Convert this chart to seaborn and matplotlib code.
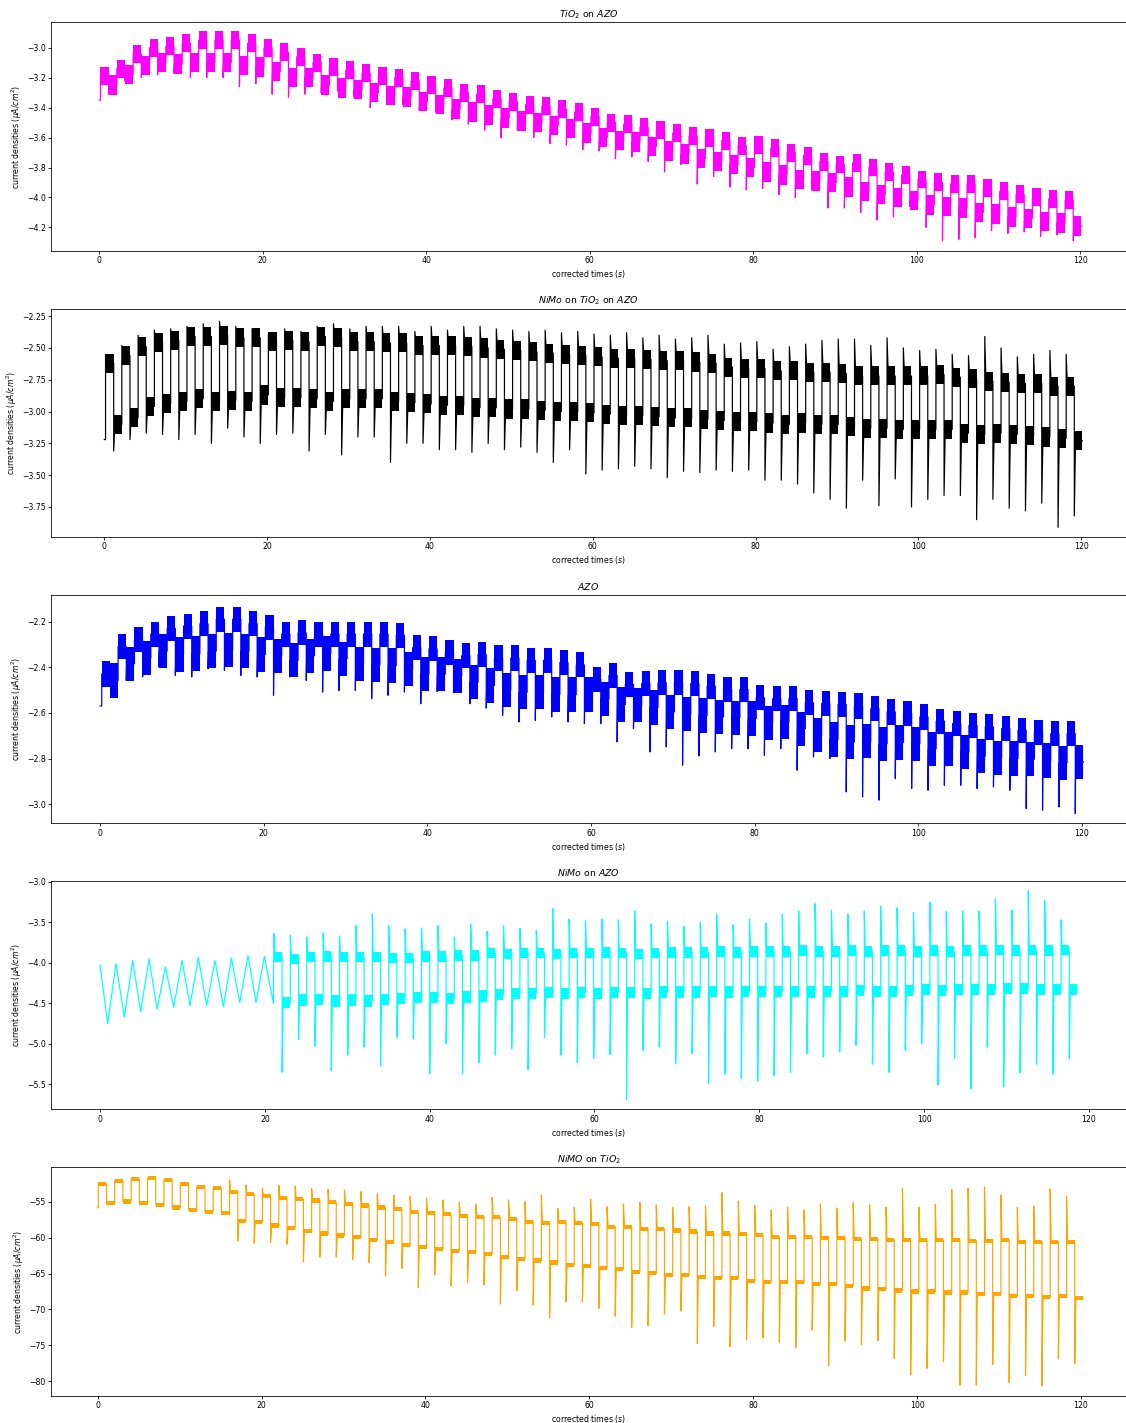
import numpy as np
import pandas as pd
import matplotlib
matplotlib.use("Agg")
import matplotlib.pyplot as plt
from matplotlib.ticker import MultipleLocator
import seaborn as sns

# Values. Each list holds one value per light
# on/off cycle: plateau levels (hi / lo) and the transient peak at the switch.

# ---- TiO2 on AZO (magenta) ----
tio2_t0, tio2_period, tio2_start = 0.15, 2.0, -3.35
tio2_hi = [-3.19, -3.14, -3.04, -3.00, -2.99, -2.97, -2.95, -2.95, -2.95, -2.97,
           -3.00, -3.03, -3.06, -3.10, -3.13, -3.15, -3.17, -3.19, -3.20, -3.22,
           -3.25, -3.27, -3.30, -3.31, -3.34, -3.36, -3.38, -3.39, -3.41, -3.43,
           -3.46, -3.50, -3.51, -3.53, -3.55, -3.57, -3.59, -3.60, -3.62, -3.655,
           -3.65, -3.67, -3.70, -3.72, -3.76, -3.78, -3.77, -3.80, -3.83, -3.85,
           -3.88, -3.90, -3.91, -3.91, -3.94, -3.96, -3.98, -4.00, -4.01, -4.02]
tio2_lo = [-3.25, -3.18, -3.12, -3.10, -3.11, -3.10, -3.10, -3.10, -3.12, -3.13,
           -3.16, -3.20, -3.20, -3.25, -3.27, -3.28, -3.30, -3.32, -3.33, -3.36,
           -3.38, -3.41, -3.43, -3.45, -3.47, -3.49, -3.50, -3.52, -3.54, -3.57,
           -3.60, -3.62, -3.63, -3.66, -3.69, -3.71, -3.74, -3.76, -3.78, -3.80,
           -3.83, -3.85, -3.88, -3.89, -3.90, -3.93, -3.96, -3.98, -4.00, -4.02,
           -4.05, -4.06, -4.07, -4.10, -4.11, -4.13, -4.14, -4.16, -4.17, -4.19]
tio2_dip = [-3.31, -3.22, -3.20, -3.18, -3.17, -3.20, -3.20, -3.20, -3.26, -3.24,
            -3.31, -3.33, -3.31, -3.30, -3.29, -3.33, -3.40, -3.38, -3.38, -3.42,
            -3.43, -3.48, -3.51, -3.55, -3.60, -3.55, -3.60, -3.64, -3.65, -3.68,
            -3.69, -3.74, -3.73, -3.76, -3.83, -3.78, -3.91, -3.86, -3.93, -3.95,
            -3.94, -3.98, -4.00, -3.95, -4.07, -4.07, -4.10, -4.15, -4.13, -4.06,
            -4.20, -4.29, -4.28, -4.27, -4.22, -4.24, -4.23, -4.26, -4.25, -4.29]

# ---- NiMo on TiO2 on AZO (black) ----
nimo_tio2_t0, nimo_tio2_period, nimo_tio2_start = 0.15, 2.0, -3.22
nimo_tio2_hi = [-2.62, -2.56, -2.49, -2.46, -2.44, -2.41, -2.41, -2.40, -2.42, -2.42,
                -2.45, -2.44, -2.45, -2.41, -2.42, -2.45, -2.45, -2.46, -2.46, -2.48,
                -2.48, -2.48, -2.49, -2.50, -2.51, -2.52, -2.53, -2.54, -2.55, -2.56,
                -2.57, -2.58, -2.58, -2.59, -2.60, -2.60, -2.61, -2.62, -2.65, -2.66,
                -2.66, -2.68, -2.68, -2.69, -2.69, -2.70, -2.72, -2.72, -2.72, -2.72,
                -2.72, -2.71, -2.73, -2.74, -2.76, -2.77, -2.78, -2.78, -2.80, -2.80]
nimo_tio2_lo = [-3.10, -3.05, -2.96, -2.94, -2.92, -2.90, -2.92, -2.91, -2.92, -2.87,
                -2.89, -2.89, -2.90, -2.92, -2.90, -2.90, -2.90, -2.92, -2.93, -2.94,
                -2.95, -2.95, -2.97, -2.97, -2.98, -2.98, -2.99, -3.00, -3.00, -3.01,
                -3.02, -3.03, -3.03, -3.04, -3.05, -3.05, -3.06, -3.07, -3.08, -3.08,
                -3.09, -3.10, -3.09, -3.10, -3.10, -3.12, -3.13, -3.13, -3.14, -3.14,
                -3.14, -3.14, -3.17, -3.18, -3.17, -3.18, -3.19, -3.20, -3.21, -3.23]
nimo_tio2_up = [-2.55, -2.48, -2.40, -2.36, -2.35, -2.33, -2.31, -2.29, -2.33, -2.35,
                -2.39, -2.35, -2.37, -2.33, -2.31, -2.35, -2.33, -2.33, -2.33, -2.37,
                -2.33, -2.36, -2.33, -2.33, -2.35, -2.36, -2.37, -2.36, -2.38, -2.37,
                -2.39, -2.40, -2.38, -2.42, -2.40, -2.43, -2.42, -2.40, -2.47, -2.46,
                -2.45, -2.51, -2.49, -2.47, -2.44, -2.43, -2.43, -2.48, -2.42, -2.50,
                -2.52, -2.51, -2.55, -2.56, -2.41, -2.50, -2.57, -2.55, -2.52, -2.55]
nimo_tio2_down = [-3.31, -3.22, -3.17, -3.18, -3.22, -3.18, -3.25, -3.13, -3.20, -3.25,
                  -3.18, -3.17, -3.31, -3.18, -3.34, -3.20, -3.20, -3.40, -3.25, -3.25,
                  -3.30, -3.30, -3.32, -3.25, -3.30, -3.28, -3.32, -3.40, -3.30, -3.49,
                  -3.46, -3.45, -3.43, -3.45, -3.52, -3.47, -3.48, -3.46, -3.47, -3.46,
                  -3.54, -3.54, -3.57, -3.64, -3.69, -3.76, -3.54, -3.74, -3.53, -3.75,
                  -3.69, -3.66, -3.66, -3.85, -3.69, -3.76, -3.78, -3.72, -3.91, -3.82]

# ---- AZO (blue) ----
azo_t0, azo_period, azo_start = 0.2, 2.0, -2.57
azo_hi = [-2.43, -2.31, -2.28, -2.255, -2.23, -2.22, -2.21, -2.19, -2.19, -2.21,
          -2.225, -2.255, -2.25, -2.255, -2.255, -2.255, -2.255, -2.255, -2.26, -2.315,
          -2.32, -2.335, -2.35, -2.345, -2.36, -2.36, -2.37, -2.37, -2.38, -2.39,
          -2.453, -2.436, -2.475, -2.472, -2.468, -2.468, -2.472, -2.483, -2.497, -2.497,
          -2.534, -2.538, -2.538, -2.556, -2.56, -2.563, -2.57, -2.582, -2.596, -2.603,
          -2.618, -2.636, -2.647, -2.655, -2.662, -2.669, -2.676, -2.687, -2.691, -2.691]
azo_lo = [-2.458, -2.385, -2.36, -2.33, -2.345, -2.34, -2.33, -2.325, -2.33, -2.345,
          -2.352, -2.37, -2.35, -2.34, -2.363, -2.385, -2.39, -2.393, -2.407, -2.43,
          -2.43, -2.437, -2.466, -2.48, -2.50, -2.51, -2.51, -2.52, -2.52, -2.52,
          -2.538, -2.563, -2.567, -2.577, -2.596, -2.606, -2.611, -2.618, -2.621, -2.625,
          -2.643, -2.64, -2.669, -2.698, -2.716, -2.727, -2.723, -2.735, -2.73, -2.735,
          -2.757, -2.757, -2.771, -2.789, -2.796, -2.80, -2.803, -2.808, -2.818, -2.815]
azo_dip = [-2.48, -2.458, -2.443, -2.40, -2.436, -2.443, -2.407, -2.414, -2.436, -2.443,
           -2.523, -2.443, -2.458, -2.509, -2.502, -2.502, -2.538, -2.523, -2.509, -2.56,
           -2.506, -2.512, -2.56, -2.579, -2.611, -2.64, -2.633, -2.618, -2.64, -2.647,
           -2.647, -2.727, -2.669, -2.771, -2.749, -2.829, -2.789, -2.771, -2.757, -2.757,
           -2.786, -2.757, -2.851, -2.793, -2.80, -2.946, -2.968, -2.982, -2.888, -2.931,
           -2.939, -2.917, -2.917, -2.931, -2.924, -2.939, -3.019, -3.026, -3.012, -3.041]

# ---- NiMo on AZO (cyan): triangular sweep first, then on/off cycles ----
nimo_azo_sweep_t = [0.0, 0.93, 1.94, 2.95, 3.96, 4.93, 5.95, 6.92, 7.93, 8.94, 9.95,
                    10.92, 11.93, 12.94, 13.95, 14.97, 15.94, 16.95, 17.96, 18.93, 19.94, 21.03]
nimo_azo_sweep_j = [-4.03, -4.75, -4.01, -4.67, -3.97, -4.60, -3.95, -4.57, -4.05, -4.55, -3.97,
                    -4.53, -3.93, -4.53, -3.97, -4.54, -3.94, -4.49, -3.91, -4.49, -3.92, -4.50]
nimo_azo_t0, nimo_azo_period = 21.1, 1.99
nimo_azo_hi = [-3.93, -3.95, -3.93, -3.92, -3.93, -3.93, -3.93, -3.94, -3.94, -3.92,
               -3.92, -3.91, -3.91, -3.88, -3.89, -3.88, -3.88, -3.89, -3.88, -3.88,
               -3.87, -3.88, -3.89, -3.88, -3.87, -3.87, -3.87, -3.86, -3.87, -3.86,
               -3.86, -3.86, -3.85, -3.86, -3.86, -3.85, -3.86, -3.85, -3.85, -3.86,
               -3.85, -3.86, -3.85, -3.85, -3.84, -3.85, -3.84, -3.85, -3.84]
nimo_azo_lo = [-4.49, -4.46, -4.45, -4.47, -4.46, -4.47, -4.45, -4.44, -4.43, -4.43,
               -4.44, -4.42, -4.41, -4.39, -4.38, -4.38, -4.37, -4.38, -4.37, -4.38,
               -4.37, -4.37, -4.38, -4.36, -4.36, -4.36, -4.35, -4.36, -4.35, -4.35,
               -4.35, -4.35, -4.36, -4.35, -4.35, -4.34, -4.35, -4.35, -4.34, -4.33,
               -4.34, -4.33, -4.33, -4.33, -4.32, -4.32, -4.33, -4.33, -4.33]
nimo_azo_up = [-3.64, -3.66, -3.68, -3.63, -3.67, -3.54, -3.40, -3.54, -3.58, -3.57,
               -3.54, -3.68, -3.52, -3.61, -3.54, -3.575, -3.60, -3.33, -3.46, -3.48,
               -3.46, -3.47, -3.36, -3.52, -3.49, -3.55, -3.50, -3.40, -3.53, -3.46,
               -3.51, -3.40, -3.36, -3.27, -3.35, -3.40, -3.36, -3.30, -3.32, -3.38,
               -3.25, -3.37, -3.36, -3.36, -3.21, -3.35, -3.11, -3.23, -3.47]
nimo_azo_down = [-5.35, -4.95, -5.03, -5.33, -5.14, -5.04, -5.27, -4.92, -4.94, -5.37,
                 -5.00, -5.37, -5.23, -5.14, -5.06, -5.32, -4.92, -5.14, -5.23, -5.18,
                 -5.13, -5.69, -5.08, -5.04, -5.24, -5.12, -5.49, -5.37, -5.43, -5.46,
                 -5.39, -5.35, -5.12, -5.16, -5.10, -5.02, -5.25, -5.35, -5.08, -5.00,
                 -5.51, -5.18, -5.55, -5.04, -5.53, -5.36, -5.25, -5.37, -5.18]

# ---- NiMO on TiO2 (orange) ----
nimo_t0, nimo_period, nimo_start = 0.07, 2.003, -55.8
nimo_hi = [-52.50, -52.02, -51.79, -51.69, -51.93, -52.53, -52.86, -53.09, -53.56, -53.88,
           -54.21, -54.44, -54.58, -54.81, -55.05, -55.28, -55.51, -55.75, -56.02, -56.35,
           -56.49, -56.72, -56.91, -57.05, -57.14, -57.37, -57.75, -57.89, -57.84, -57.89,
           -58.07, -58.45, -58.45, -58.77, -58.77, -59.00, -59.14, -59.38, -59.38, -59.47,
           -59.61, -59.84, -59.84, -59.93, -60.07, -60.07, -60.17, -60.17, -60.31, -60.31,
           -60.31, -60.31, -60.31, -60.40, -60.40, -60.31, -60.54, -60.54, -60.54, -60.54]
nimo_lo = [-55.19, -54.95, -55.19, -55.42, -55.79, -56.12, -56.35, -56.58, -57.61, -57.84,
           -58.30, -58.68, -59.05, -59.42, -59.70, -59.89, -60.31, -60.63, -61.05, -61.33,
           -61.52, -61.84, -62.03, -62.26, -62.73, -62.96, -63.19, -63.43, -63.80, -63.90,
           -64.26, -64.36, -64.73, -64.96, -65.20, -65.20, -65.43, -65.66, -65.66, -65.99,
           -66.22, -66.22, -66.22, -66.45, -66.45, -66.69, -67.06, -67.15, -67.38, -67.52,
           -67.52, -67.62, -67.62, -67.85, -67.85, -68.08, -68.08, -68.22, -68.08, -68.45]
nimo_up = [-52.50, -52.02, -51.79, -51.69, -51.93, -52.53, -52.86, -53.09, -51.93, -52.63,
           -53.09, -52.63, -52.77, -53.09, -53.23, -53.32, -53.56, -53.88, -54.02, -54.25,
           -54.49, -54.72, -55.05, -55.33, -54.35, -54.72, -54.95, -54.02, -55.90, -55.79,
           -54.58, -55.65, -55.28, -55.05, -55.42, -55.75, -55.65, -55.51, -53.70, -54.86,
           -55.51, -56.12, -55.75, -56.12, -55.28, -55.88, -55.09, -55.42, -55.75, -53.09,
           -55.75, -55.33, -53.23, -53.09, -52.95, -54.02, -55.75, -55.56, -53.18, -54.25]
nimo_down = [-55.19, -54.95, -55.19, -55.42, -55.79, -56.12, -56.35, -56.58, -60.45, -60.77,
             -60.63, -60.91, -63.33, -62.64, -62.64, -63.01, -63.43, -65.34, -64.26, -66.97,
             -65.20, -66.69, -66.22, -66.59, -69.25, -67.43, -69.39, -71.15, -68.92, -68.92,
             -69.85, -70.92, -72.55, -72.27, -70.64, -70.18, -74.74, -72.41, -75.21, -74.27,
             -73.95, -74.60, -75.34, -72.88, -77.86, -74.41, -74.88, -74.37, -76.83, -79.16,
             -78.23, -77.30, -80.56, -80.56, -77.67, -80.19, -79.25, -80.65, -76.93, -77.53]


def build_trace(t0, period, hi, lo, hi_peak, lo_peak, settle, lead_t, lead_j):
    """Turn per-cycle levels into a (time, current) trace plus the plateau blocks."""
    t, j = list(lead_t), list(lead_j)
    blocks = []
    for k in range(len(hi)):
        a = t0 + k * period
        b = a + period / 2
        c = a + period
        t += [a, a + settle, b, b, b + settle, c]
        j += [hi_peak[k], hi[k], hi[k], lo_peak[k], lo[k], lo[k]]
        blocks += [(a, b, hi[k], "hi"), (b, c, lo[k], "lo")]
    return pd.DataFrame({"time": t, "current": j}), blocks


panels = [
    dict(title=r"$TiO_2$ on $AZO$", color="magenta",
         trace=build_trace(tio2_t0, tio2_period, tio2_hi, tio2_lo, tio2_hi, tio2_dip,
                           0.05, [0.0, tio2_t0], [tio2_start, tio2_start]),
         band=(0.12, 0.13), step=0.2, xlim=(-5.9, 125.6), ylim=(-4.356, -2.83)),
    dict(title=r"$NiMo$ on $TiO_2$ on $AZO$", color="black",
         trace=build_trace(nimo_tio2_t0, nimo_tio2_period, nimo_tio2_hi, nimo_tio2_lo,
                           nimo_tio2_up, nimo_tio2_down, 0.15,
                           [0.0, nimo_tio2_t0], [nimo_tio2_start, nimo_tio2_start]),
         band=(0.15, 0.15), step=0.25, xlim=(-6.55, 125.5), ylim=(-3.986, -2.19)),
    dict(title=r"$AZO$", color="blue",
         trace=build_trace(azo_t0, azo_period, azo_hi, azo_lo, azo_hi, azo_dip,
                           0.05, [0.0, azo_t0], [azo_start, azo_start]),
         band=(0.11, 0.15), step=0.2, xlim=(-6.0, 125.4), ylim=(-3.083, -2.083)),
    dict(title=r"$NiMo$ on $AZO$", color="cyan",
         trace=build_trace(nimo_azo_t0, nimo_azo_period, nimo_azo_hi, nimo_azo_lo,
                           nimo_azo_up, nimo_azo_down, 0.12,
                           nimo_azo_sweep_t, nimo_azo_sweep_j),
         band=(0.13, 0.14), step=0.5, xlim=(-5.95, 124.5), ylim=(-5.81, -2.99)),
    dict(title=r"$NiMO$ on $TiO_2$", color="orange",
         trace=build_trace(nimo_t0, nimo_period, nimo_hi, nimo_lo, nimo_up, nimo_down,
                           0.12, [0.0, nimo_t0], [nimo_start, nimo_start]),
         band=(0.6, 0.6), step=5, xlim=(-5.7, 125.5), ylim=(-82.05, -50.15)),
]

# the reference was rendered large and scaled down, so text is small
plt.rcParams.update({
    "font.size": 7.8,
    "xtick.major.size": 2.7,
    "ytick.major.size": 2.7,
    "xtick.major.pad": 2.7,
    "ytick.major.pad": 2.7,
    "axes.titlepad": 4.7,
    "axes.labelpad": 3.1,
})

W, H = 1126, 1423
fig, axes = plt.subplots(5, 1, figsize=(W / 72, H / 72), dpi=72)
fig.subplots_adjust(left=51 / W, right=1.0, top=1 - 22.3 / H, bottom=1 - 1395.7 / H,
                    hspace=0.253)

for ax, p in zip(axes, panels):
    df, blocks = p["trace"]
    sns.lineplot(data=df, x="time", y="current", sort=False, estimator=None,
                 color=p["color"], linewidth=1.2, ax=ax)
    # noise band of each plateau
    for a, b, level, kind in blocks:
        half = (p["band"][0] if kind == "hi" else p["band"][1]) / 2
        ax.fill_between([a, b], level - half, level + half, color=p["color"], linewidth=0)
    ax.set_xlim(*p["xlim"])
    ax.set_ylim(*p["ylim"])
    ax.yaxis.set_major_locator(MultipleLocator(p["step"]))
    ax.xaxis.set_major_locator(MultipleLocator(20))
    ax.set_title(p["title"])
    ax.set_xlabel(r"corrected times ($s$)")
    ax.set_ylabel(r"current densities ($\mu A/cm^2$)")

fig.savefig("out.png", dpi=72)
